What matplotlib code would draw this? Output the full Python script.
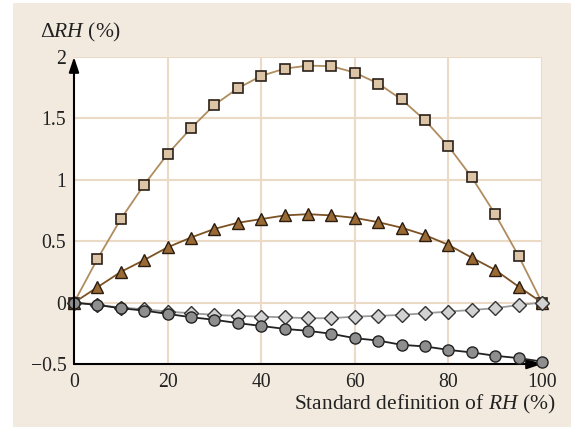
import matplotlib
matplotlib.use("Agg")
import matplotlib.pyplot as plt
from matplotlib.patches import Rectangle

plt.rcParams['font.family'] = ['Liberation Serif', 'DejaVu Serif']
plt.rcParams['mathtext.fontset'] = 'custom'
plt.rcParams['mathtext.rm'] = 'Liberation Serif'
plt.rcParams['mathtext.it'] = 'Liberation Serif:italic'

x = [0, 5, 10, 15, 20, 25, 30, 35, 40, 45, 50, 55, 60, 65, 70, 75, 80, 85, 90, 95, 100]
squares = [0, 0.355, 0.68, 0.96, 1.21, 1.42, 1.61, 1.745, 1.846, 1.905, 1.93, 1.925,
           1.873, 1.784, 1.654, 1.485, 1.274, 1.02, 0.72, 0.38, 0]
triangles = [0, 0.125, 0.25, 0.347, 0.45, 0.53, 0.60, 0.65, 0.68, 0.71, 0.72, 0.71,
             0.69, 0.655, 0.61, 0.55, 0.47, 0.366, 0.266, 0.13, 0]
diamonds = [0, -0.02, -0.04, -0.055, -0.073, -0.087, -0.1, -0.108, -0.114, -0.12, -0.127,
            -0.127, -0.114, -0.108, -0.1, -0.087, -0.073, -0.06, -0.046, -0.019, 0]
circles = [0, -0.019, -0.046, -0.065, -0.092, -0.119, -0.14, -0.167, -0.19, -0.214, -0.23,
           -0.254, -0.29, -0.309, -0.344, -0.357, -0.385, -0.406, -0.433, -0.452, -0.48]

xticks = [0, 20, 40, 60, 80, 100]
yticks = [-0.5, 0, 0.5, 1, 1.5, 2]
ytick_labels = ['\u22120.5', '0', '0.5', '1', '1.5', '2']

W, H = 571, 430
fig = plt.figure(figsize=(W / 100, H / 100), dpi=100, facecolor='white')
fig.patches.append(Rectangle((13 / W, 3 / H), (W - 13) / W, (427 - 3) / H,
                             transform=fig.transFigure, facecolor='#f2eadf',
                             edgecolor='none', zorder=0))

ax = fig.add_axes([74 / W, (H - 364) / H, (542 - 74) / W, (364 - 57) / H])
ax.set_zorder(2)
ax.set_facecolor('white')
ax.set_xlim(0, 100)
ax.set_ylim(-0.5, 2)

grid_c = '#ebdac6'
for gx in xticks[1:]:
    ax.axvline(gx, color=grid_c, lw=1.5, zorder=1)
for gy in yticks[1:]:
    ax.axhline(gy, color=grid_c, lw=1.5, zorder=1)

ax.plot(x, squares, color='#b08c5e', lw=1.3, marker='s', ms=7,
        mfc='#dcc4a6', mec='#2a2018', mew=1.2, zorder=4, clip_on=False)
ax.plot(x, triangles, color='#7d5224', lw=1.3, marker='^', ms=9,
        mfc='#9a6a35', mec='#2a1c10', mew=1.0, zorder=4, clip_on=False)
ax.plot(x, diamonds, color='#9a9a9a', lw=1.3, marker='D', ms=7,
        mfc='#d2d2d2', mec='#333333', mew=1.0, zorder=4, clip_on=False)
ax.plot(x, circles, color='#222222', lw=1.3, marker='o', ms=8,
        mfc='#8e8e8e', mec='#222222', mew=1.0, zorder=5, clip_on=False)

for s in ax.spines.values():
    s.set_visible(False)

# axes with arrows
ax.annotate('', xy=(0, 1.0), xytext=(0, 0), xycoords='axes fraction',
            arrowprops=dict(arrowstyle='-|>,head_length=0.9,head_width=0.3',
                            color='black', lw=1.5, shrinkA=0, shrinkB=0), zorder=6,
            annotation_clip=False)
ax.annotate('', xy=(1.0, 0), xytext=(0, 0), xycoords='axes fraction',
            arrowprops=dict(arrowstyle='-|>,head_length=0.9,head_width=0.3',
                            color='black', lw=1.5, shrinkA=0, shrinkB=0), zorder=3,
            annotation_clip=False)

ax.set_xticks(xticks)
ax.set_yticks(yticks)
ax.set_yticklabels(ytick_labels)
ax.tick_params(length=0, labelsize=14.2, colors='#222222')
ax.tick_params(axis='x', pad=6.5)
ax.tick_params(axis='y', pad=5.5)

fig.text(40 / W, (H - 37) / H, '\u0394$\\mathit{RH}$ (%)', fontsize=15.5, color='#222222')
fig.text(555 / W, (H - 409) / H, r'Standard definition of $\mathit{RH}$ (%)',
         fontsize=15.5, color='#222222', ha='right')

fig.savefig('out.png', dpi=100, facecolor=fig.get_facecolor())
